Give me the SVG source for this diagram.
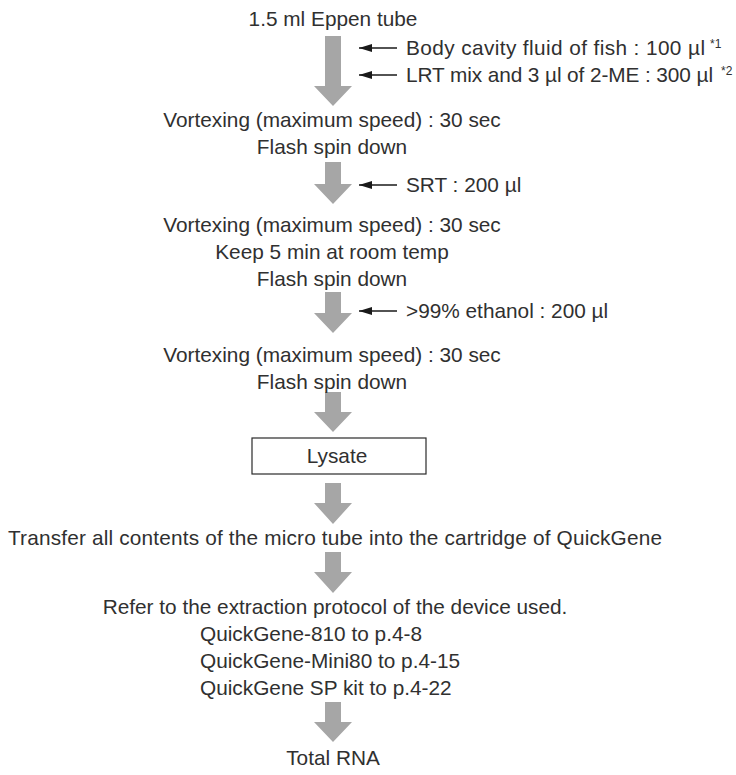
<svg xmlns="http://www.w3.org/2000/svg" width="736" height="775" viewBox="0 0 736 775">
<style>
text{font-family:"Liberation Sans",Arial,sans-serif;font-size:20.8px;fill:#303030}
.c{text-anchor:middle}
.sup{font-size:12px}
.big{fill:#a6a6a6;stroke:none}
.side{stroke:#1a1a1a;stroke-width:1.4;fill:none}
.box{fill:#fff;stroke:#2a2a2a;stroke-width:1.2}
</style>
<defs>
<marker id="ah" markerUnits="userSpaceOnUse" viewBox="0 0 13 8" refX="13" refY="4" markerWidth="13" markerHeight="8" orient="auto">
<path d="M0,0 L13,4 L0,8 z" fill="#1a1a1a"/>
</marker>
</defs>
<rect width="736" height="775" fill="#fff"/>
<g id="connectors">
<path class="big" d="M325,36 H341 V86 H352 L333,106 L314,86 H325 Z"/>
<path class="big" d="M325,162 H341 V184 H352 L333,204 L314,184 H325 Z"/>
<path class="big" d="M325,292 H341 V313 H352 L333,333 L314,313 H325 Z"/>
<path class="big" d="M325,392 H341 V412 H352 L333,432 L314,412 H325 Z"/>
<path class="big" d="M325,483 H341 V503 H352 L333,524 L314,503 H325 Z"/>
<path class="big" d="M325,552 H341 V572 H352 L333,593 L314,572 H325 Z"/>
<path class="big" d="M325,702 H341 V722 H352 L333,742 L314,722 H325 Z"/>
<line class="side" x1="397" y1="48" x2="359" y2="48" marker-end="url(#ah)"/>
<line class="side" x1="397" y1="75" x2="359" y2="75" marker-end="url(#ah)"/>
<line class="side" x1="397" y1="185" x2="359" y2="185" marker-end="url(#ah)"/>
<line class="side" x1="397" y1="311" x2="359" y2="311" marker-end="url(#ah)"/>
</g>
<g id="tube"><text class="c" x="333" y="26">1.5 ml Eppen tube</text></g>
<g id="add-fluid"><text x="406" y="55" textLength="299">Body cavity fluid of fish : 100 µl</text><text class="sup" x="710" y="48">*1</text></g>
<g id="add-lrt"><text x="406" y="82" textLength="307">LRT mix and 3 µl of 2-ME : 300 µl</text><text class="sup" x="721" y="75">*2</text></g>
<g id="step1"><text class="c" x="332" y="127">Vortexing (maximum speed) : 30 sec</text><text class="c" x="332" y="154">Flash spin down</text></g>
<g id="add-srt"><text x="406" y="192">SRT : 200 µl</text></g>
<g id="step2"><text class="c" x="332" y="232">Vortexing (maximum speed) : 30 sec</text><text class="c" x="332" y="259">Keep 5 min at room temp</text><text class="c" x="332" y="286">Flash spin down</text></g>
<g id="add-ethanol"><text x="406" y="318">&gt;99% ethanol : 200 µl</text></g>
<g id="step3"><text class="c" x="332" y="362">Vortexing (maximum speed) : 30 sec</text><text class="c" x="332" y="389">Flash spin down</text></g>
<g id="lysate"><rect class="box" x="252" y="438" width="174" height="36"/><text class="c" x="337" y="463">Lysate</text></g>
<g id="transfer"><text class="c" x="335" y="545" textLength="654">Transfer all contents of the micro tube into the cartridge of QuickGene</text></g>
<g id="refer"><text class="c" x="335" y="614">Refer to the extraction protocol of the device used.</text><text x="200" y="641">QuickGene-810 to p.4-8</text><text x="200" y="668">QuickGene-Mini80 to p.4-15</text><text x="200" y="695">QuickGene SP kit to p.4-22</text></g>
<g id="total-rna"><text class="c" x="333" y="765">Total RNA</text></g>
</svg>
